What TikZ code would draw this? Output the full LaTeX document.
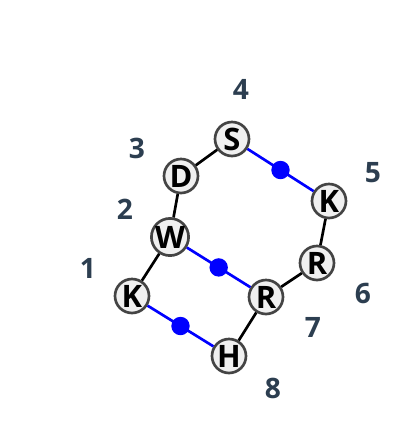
\documentclass[tikz,border=0pt]{standalone}
\usepackage{fontspec}
\setmainfont{Open Sans}
\usepackage{tikz}

\definecolor{nodefill}{HTML}{F0F0F0}
\definecolor{nodeline}{HTML}{444444}
\definecolor{numcol}{HTML}{2C3E50}

\begin{document}
\begin{tikzpicture}[x=0.025cm,y=-0.025cm,
    atom/.style={circle, fill=nodefill, draw=nodeline, line width=1.9pt, minimum size=0.85cm, inner sep=0pt, font=\fontsize{22}{22}\selectfont\bfseries},
    bond/.style={line width=1.9pt, black},
    link/.style={line width=1.9pt, blue},
    dot/.style={circle, fill=blue, inner sep=0pt, minimum size=0.46cm},
    num/.style={text=numcol, font=\fontsize{20}{20}\selectfont\bfseries}]

\useasboundingbox (0,0) rectangle (400,436);

\node[atom] (s) at (232,139) {S};
\node[atom] (d) at (181,176) {D};
\node[atom] (w) at (170,237) {W};
\node[atom] (k1) at (132,296) {K};
\node[atom] (h) at (229,356) {H};
\node[atom] (r7) at (266,297) {R};
\node[atom] (r6) at (317,263) {R};
\node[atom] (k5) at (329,201) {K};

\draw[bond] (s) -- (d);
\draw[bond] (d) -- (w);
\draw[bond] (w) -- (k1);
\draw[bond] (h) -- (r7);
\draw[bond] (r7) -- (r6);
\draw[bond] (r6) -- (k5);
\draw[link] (s) -- node[dot] {} (k5);
\draw[link] (w) -- node[dot] {} (r7);
\draw[link] (k1) -- node[dot] {} (h);

% position numbers
\node[num] (n1) at (88,268) {1};
\node[num] (n2) at (125,209) {2};
\node[num] (n3) at (137,148) {3};
\node[num] (n4) at (241,89) {4};
\node[num] (n5) at (373,173) {5};
\node[num] (n6) at (363,293) {6};
\node[num] (n7) at (313,327) {7};
\node[num] (n8) at (273,388) {8};

\end{tikzpicture}
\end{document}
